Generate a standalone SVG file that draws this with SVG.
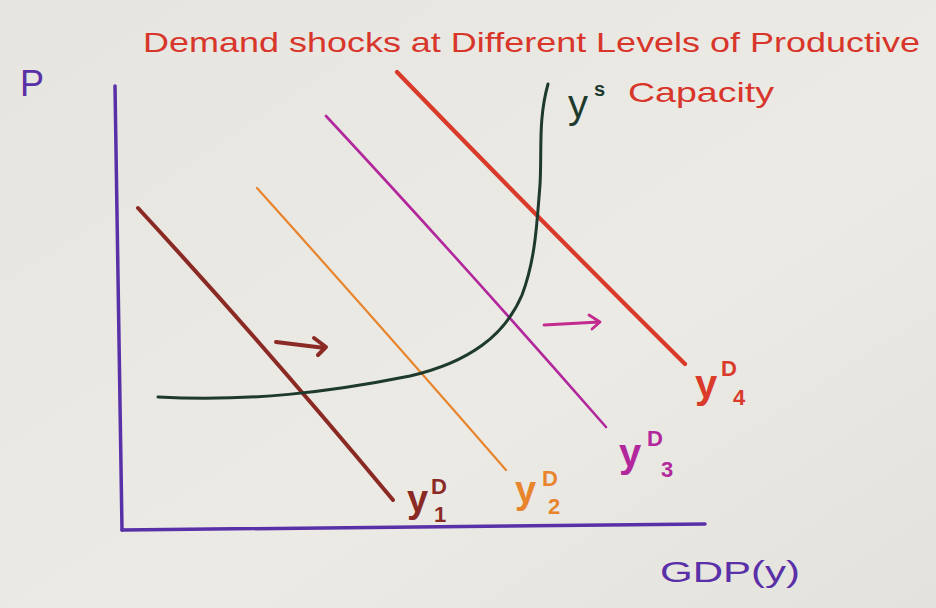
<svg xmlns="http://www.w3.org/2000/svg" width="936" height="608" viewBox="0 0 936 608">
<defs>
<linearGradient id="bg" x1="0" y1="0" x2="1" y2="1">
<stop offset="0" stop-color="#e6e5e0"/>
<stop offset="0.6" stop-color="#ebeae5"/>
<stop offset="1" stop-color="#e3e2dc"/>
</linearGradient>
<style>
.hand{font-family:"Liberation Sans","DejaVu Sans",sans-serif;}
.sub{font-size:22px;font-weight:bold;}
.crv{fill:none;stroke-linecap:round;stroke-linejoin:round;}
.axis{stroke:#5a30a8;stroke-width:3.5;fill:none;stroke-linecap:round;}
</style>
</defs>
<rect width="936" height="608" fill="url(#bg)"/>
<g id="axes">
<path class="axis" d="M115,86 Q118,300 122,530"/>
<path class="axis" d="M122,530 L705,524"/>
</g>
<g id="labels">
<text class="hand" x="20" y="96" font-size="36" fill="#5a30a8">P</text>
<text class="hand" x="143" y="52" font-size="28" fill="#d8362a" textLength="777" lengthAdjust="spacingAndGlyphs">Demand shocks at Different Levels of Productive</text>
<text class="hand" x="628" y="102" font-size="28" fill="#d8362a" textLength="146" lengthAdjust="spacingAndGlyphs">Capacity</text>
<text class="hand" x="660" y="582" font-size="30" fill="#5a30a8" textLength="140" lengthAdjust="spacingAndGlyphs">GDP(y)</text>
</g>
<g id="connectors">
<path id="yd1" class="crv" stroke="#8b2a24" stroke-width="4" d="M138,208 Q260,340 393,500"/>
<path id="yd2" class="crv" stroke="#e8842c" stroke-width="2.2" d="M257,188 Q380,325 506,470"/>
<path id="yd3" class="crv" stroke="#b2279c" stroke-width="2.6" d="M326,116 Q460,260 606,427"/>
<path id="yd4" class="crv" stroke="#d93a2a" stroke-width="4.2" d="M397,72 Q540,220 685,364"/>
<path id="ys" class="crv" stroke="#1e3a2d" stroke-width="3" d="M158,397 C250,402 330,392 410,376 C470,362 505,335 522,295 C536,258 537,220 540,185 C542,150 538,120 548,84"/>
<path id="arrow1" class="crv" stroke="#8b2a24" stroke-width="4" d="M276,342 L325,348 M314,338 L326,347 L318,355"/>
<path id="arrow2" class="crv" stroke="#c32a8f" stroke-width="2.8" d="M544,325 L599,322 M589,315 L600,322 L592,329"/>
</g>
<g id="ys-label" class="hand" fill="#1e3a2d">
<text x="568" y="118" font-size="40">y</text>
<text x="594" y="96" font-size="20" font-weight="bold">s</text>
</g>
<g id="yd1-label" class="hand" fill="#8b2a24" font-weight="bold">
<text x="407" y="512" font-size="38">y</text>
<text class="sub" x="431" y="494">D</text>
<text class="sub" x="434" y="522">1</text>
</g>
<g id="yd2-label" class="hand" fill="#e8842c" font-weight="bold">
<text x="515" y="503" font-size="38">y</text>
<text class="sub" x="542" y="486">D</text>
<text class="sub" x="548" y="514">2</text>
</g>
<g id="yd3-label" class="hand" fill="#b2279c" font-weight="bold">
<text x="619" y="467" font-size="40">y</text>
<text class="sub" x="647" y="446">D</text>
<text class="sub" x="661" y="477">3</text>
</g>
<g id="yd4-label" class="hand" fill="#d93a2a" font-weight="bold">
<text x="695" y="398" font-size="40">y</text>
<text class="sub" x="721" y="376">D</text>
<text class="sub" x="733" y="405">4</text>
</g>
</svg>
